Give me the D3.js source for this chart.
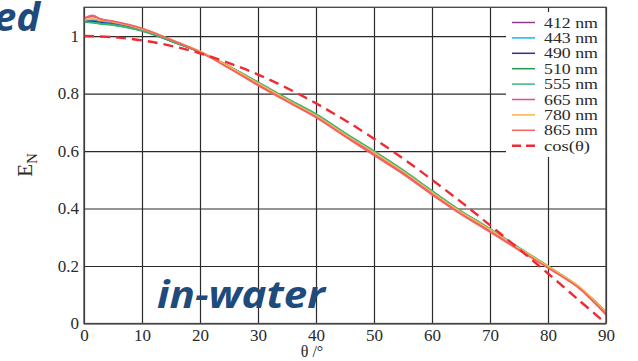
<!DOCTYPE html>
<html>
<head>
<meta charset="utf-8">
<script src="https://cdn.jsdelivr.net/npm/d3@7"></script>
<style>
  body { margin: 0; background: #fff; }
  svg { display: block; }
</style>
</head>
<body>
<figure style="margin:0"></figure>
<script>
// angles (deg) at which the spectral curves were read
const angles = [0, 1.5, 3, 5, 10, 15, 20, 25, 30, 35, 40, 45, 50, 55, 60, 65, 70, 75, 80, 85, 87.5, 90];

const e412 = [1.052, 1.055, 1.050, 1.045, 1.022, 0.985, 0.945, 0.893, 0.835, 0.778, 0.724, 0.657, 0.593, 0.527, 0.455, 0.386, 0.325, 0.260, 0.197, 0.130, 0.085, 0.035];
const e443 = [1.050, 1.053, 1.048, 1.043, 1.021, 0.984, 0.945, 0.894, 0.836, 0.779, 0.725, 0.658, 0.594, 0.528, 0.456, 0.387, 0.326, 0.261, 0.198, 0.131, 0.086, 0.036];
const e490 = [1.049, 1.051, 1.046, 1.041, 1.020, 0.983, 0.944, 0.894, 0.837, 0.780, 0.726, 0.660, 0.596, 0.530, 0.458, 0.389, 0.327, 0.262, 0.198, 0.131, 0.087, 0.038];
const e510 = [1.048, 1.046, 1.042, 1.038, 1.018, 0.982, 0.944, 0.894, 0.839, 0.782, 0.728, 0.662, 0.599, 0.533, 0.461, 0.391, 0.329, 0.263, 0.199, 0.132, 0.088, 0.040];
const e555 = [1.049, 1.047, 1.043, 1.039, 1.019, 0.983, 0.945, 0.895, 0.840, 0.783, 0.729, 0.663, 0.600, 0.534, 0.462, 0.392, 0.330, 0.264, 0.200, 0.133, 0.089, 0.041];
const e665 = [1.060, 1.068, 1.058, 1.050, 1.024, 0.987, 0.946, 0.891, 0.832, 0.775, 0.720, 0.654, 0.590, 0.524, 0.452, 0.383, 0.322, 0.258, 0.196, 0.130, 0.084, 0.033];
const e780 = [1.055, 1.060, 1.054, 1.049, 1.025, 0.988, 0.947, 0.894, 0.836, 0.779, 0.724, 0.658, 0.595, 0.529, 0.457, 0.388, 0.327, 0.262, 0.199, 0.134, 0.090, 0.040];
const e865 = [1.062, 1.072, 1.058, 1.052, 1.027, 0.987, 0.944, 0.888, 0.828, 0.772, 0.716, 0.650, 0.585, 0.520, 0.448, 0.380, 0.318, 0.255, 0.193, 0.128, 0.082, 0.030];

// dashed reference curve, read every 5 degrees
const cosAngles = [0, 5, 10, 15, 20, 25, 30, 35, 40, 45, 50, 55, 60, 65, 70, 75, 80, 85, 90];
const cosValues = [1, 0.996, 0.985, 0.966, 0.940, 0.906, 0.866, 0.819, 0.766, 0.707, 0.643, 0.574, 0.500, 0.423, 0.342, 0.259, 0.174, 0.087, 0];

const seriesNames = ["412 nm", "443 nm", "490 nm", "510 nm", "555 nm", "665 nm", "780 nm", "865 nm"];
const seriesValues = [e412, e443, e490, e510, e555, e665, e780, e865];
const seriesColors = ["#8e3a8e", "#19b7ea", "#2e3192", "#1f9a4f", "#3bb77a", "#ef4598", "#f9b24a", "#f2645f"];

const xTicks = [0, 10, 20, 30, 40, 50, 60, 70, 80, 90];
const yTicks = [0, 0.2, 0.4, 0.6, 0.8, 1];
const yTickLabels = ["0", "0.2", "0.4", "0.6", "0.8", "1"];

const W = 638, H = 361;
const plotL = 84, plotR = 606, plotT = 7.3, plotB = 323.5;
const serif = '"Liberation Serif", "DejaVu Serif", serif';

const svg = d3.select("figure").append("svg").attr("width", W).attr("height", H);

const x = d3.scaleLinear().domain([0, 90]).range([plotL, plotR]);
const y = d3.scaleLinear().domain([0, 1.1]).range([plotB, plotT]);

// grid + tick labels
const xAxis = svg.append("g")
  .attr("transform", "translate(0," + plotB + ")")
  .call(d3.axisBottom(x).tickValues(xTicks).tickSize(-(plotB - plotT)).tickPadding(5).tickFormat(d3.format("d")));
xAxis.attr("font-family", null).style("font-family", serif).attr("font-size", 17);
xAxis.select(".domain").remove();
xAxis.selectAll("line").attr("stroke", "#2b2b2b").attr("stroke-width", 1.2);
xAxis.selectAll("text").attr("fill", "#2a2a2a");

const yAxis = svg.append("g")
  .attr("transform", "translate(" + plotL + ",0)")
  .call(d3.axisLeft(y).tickValues(yTicks).tickSize(-(plotR - plotL)).tickPadding(5).tickFormat((d, i) => yTickLabels[i]));
yAxis.attr("font-family", null).style("font-family", serif).attr("font-size", 17);
yAxis.select(".domain").remove();
yAxis.selectAll("line").attr("stroke", "#2b2b2b").attr("stroke-width", 1.2);
yAxis.selectAll("text").attr("fill", "#2a2a2a");

// legend box hides the grid underneath
svg.append("rect")
  .attr("x", 506).attr("y", 12)
  .attr("width", plotR - 506).attr("height", 145)
  .attr("fill", "#fff");

// curves
const line = d3.line()
  .x((d, i) => x(angles[i]))
  .y(d => y(d))
  .curve(d3.curveCatmullRom);

seriesValues.forEach((vals, k) => {
  svg.append("path")
    .attr("d", line(vals))
    .attr("fill", "none")
    .attr("stroke", seriesColors[k])
    .attr("stroke-width", 1.6);
});

const cosLine = d3.line()
  .x((d, i) => x(cosAngles[i]))
  .y(d => y(d))
  .curve(d3.curveCatmullRom);

svg.append("path")
  .attr("d", cosLine(cosValues))
  .attr("fill", "none")
  .attr("stroke", "#ee2b33")
  .attr("stroke-width", 2.4)
  .attr("stroke-dasharray", "10,6");

// frame
svg.append("rect")
  .attr("x", plotL).attr("y", plotT)
  .attr("width", plotR - plotL).attr("height", plotB - plotT)
  .attr("fill", "none")
  .attr("stroke", "#444")
  .attr("stroke-width", 1.3);

// legend
const legend = svg.append("g").style("font-family", serif).attr("font-size", 15.5);
const legendNames = seriesNames.concat(["cos(\u03b8)"]);
const legendColors = seriesColors.concat(["#ee2b33"]);
legendNames.forEach((name, i) => {
  const ly = 22.5 + i * 15.4;
  legend.append("line")
    .attr("x1", 512).attr("x2", 535)
    .attr("y1", ly).attr("y2", ly)
    .attr("stroke", legendColors[i])
    .attr("stroke-width", i === 8 ? 2.4 : 1.5)
    .attr("stroke-dasharray", i === 8 ? "9,5" : null);
  legend.append("text")
    .attr("x", 544).attr("y", ly + 5)
    .attr("textLength", i === 8 ? 46 : 54)
    .attr("lengthAdjust", "spacingAndGlyphs")
    .attr("fill", "#2a2a2a")
    .text(name);
});

// axis titles
const yTitle = svg.append("text")
  .attr("transform", "translate(32,165) rotate(-90)")
  .attr("text-anchor", "middle")
  .style("font-family", serif)
  .attr("fill", "#2a2a2a");
yTitle.append("tspan").attr("font-size", 21).text("E");
yTitle.append("tspan").attr("font-size", 15).attr("dy", 5).text("N");

svg.append("text")
  .attr("x", 312).attr("y", 357)
  .attr("text-anchor", "middle")
  .style("font-family", serif)
  .attr("font-size", 16)
  .attr("fill", "#2a2a2a")
  .text("\u03b8 /\u00b0");

// slide overlay text
svg.append("text")
  .attr("x", 157).attr("y", 308)
  .style("font-family", '"Open Sans", sans-serif')
  .attr("font-weight", "bold")
  .attr("font-style", "italic")
  .attr("font-size", 38)
  .attr("textLength", 168)
  .attr("lengthAdjust", "spacingAndGlyphs")
  .attr("fill", "#1f4a7c")
  .text("in-water");

svg.append("text")
  .attr("x", 40).attr("y", 31)
  .attr("text-anchor", "end")
  .style("font-family", '"Open Sans", sans-serif')
  .attr("font-weight", "bold")
  .attr("font-style", "italic")
  .attr("font-size", 40)
  .attr("fill", "#1f4a7c")
  .text("ed");
</script>
</body>
</html>
